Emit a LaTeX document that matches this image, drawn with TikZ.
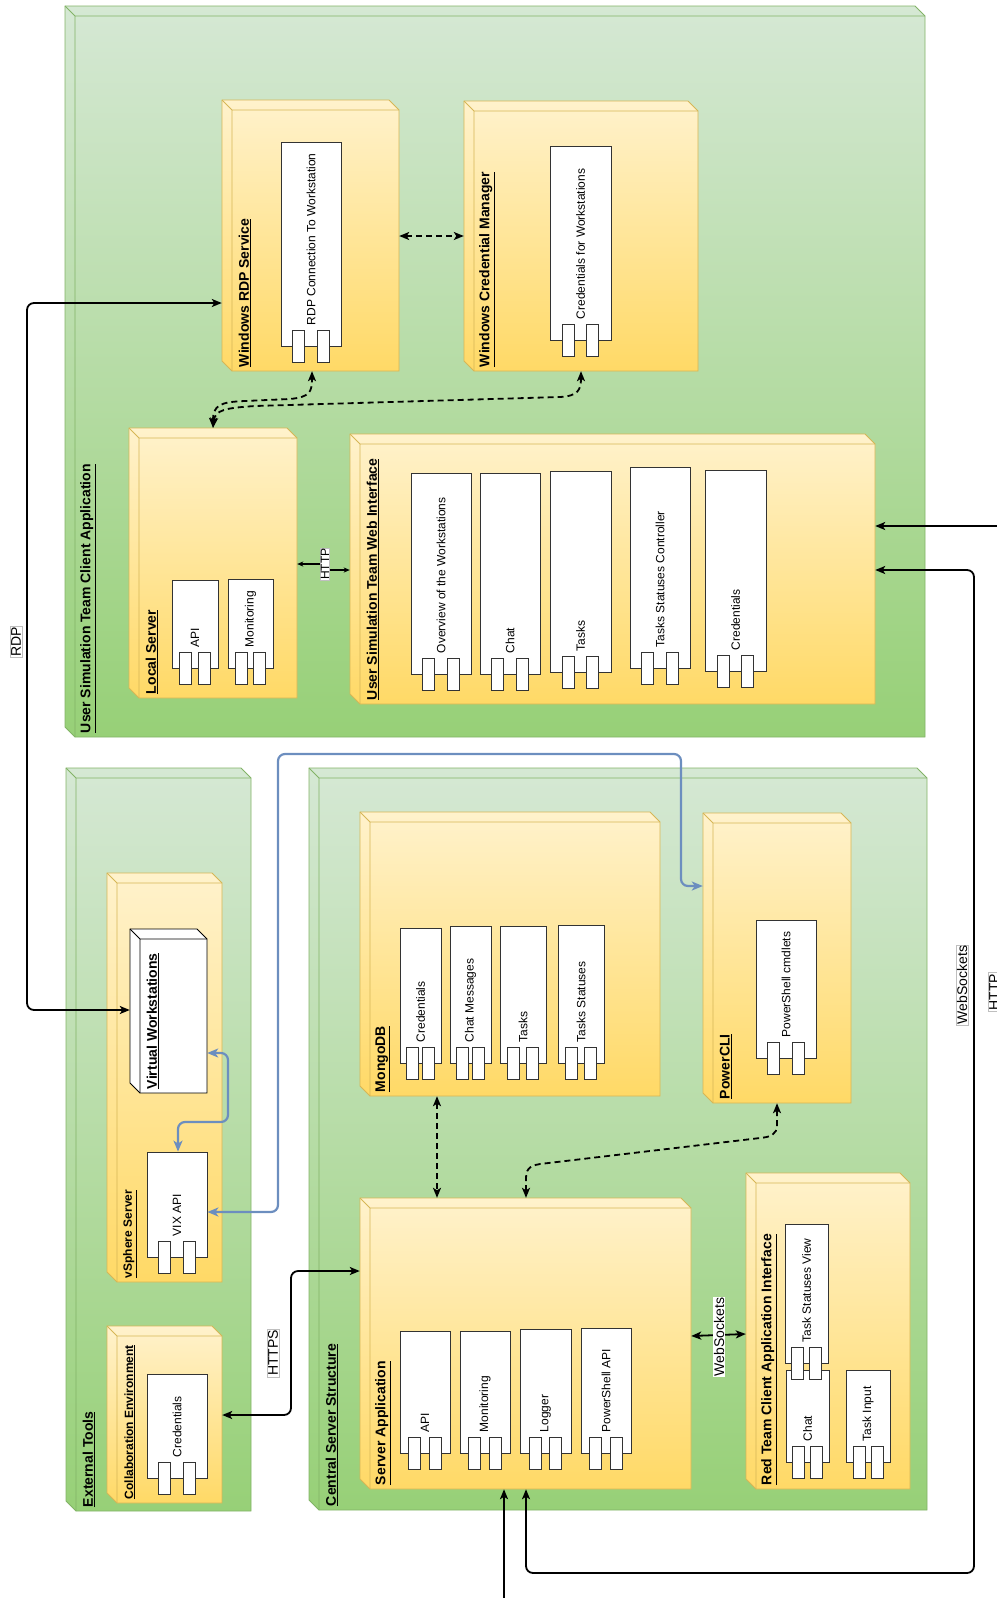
\documentclass[tikz,border=0pt]{standalone}
\usepackage{fontspec}
\setmainfont{Liberation Sans}
\usetikzlibrary{arrows.meta,calc,fit}
\definecolor{greentop}{HTML}{D5E8D4}
\definecolor{greenbottom}{HTML}{97D077}
\definecolor{greenline}{HTML}{82B366}
\definecolor{yellowtop}{HTML}{FFF2CC}
\definecolor{yellowbottom}{HTML}{FFD966}
\definecolor{yellowline}{HTML}{D6B656}
\definecolor{whitetop}{HTML}{FFFFFF}
\definecolor{whitebottom}{HTML}{FFFFFF}
\definecolor{whiteline}{HTML}{000000}
\definecolor{linkblue}{HTML}{6C8EBF}
\newcommand{\titlefont}{\fontsize{14}{16}\selectfont\bfseries}
\newcommand{\smalltitlefont}{\fontsize{12}{14}\selectfont\bfseries}
\newcommand{\labelfont}{\fontsize{12}{14}\selectfont}
\tikzset{
  comprect/.style={draw=black!80, fill=white, line width=0.8pt, inner sep=0pt},
  comppin/.style={draw=black!80, fill=white, line width=0.8pt, inner sep=0pt, minimum width=12pt, minimum height=32pt},
  complabel/.style={rotate=90, anchor=west, inner sep=0pt, font=\labelfont},
  boxlabel/.style={rotate=90, anchor=west, inner sep=0pt, font=\titlefont},
  link/.style={line width=1.8pt, rounded corners=7pt},
  dashlink/.style={line width=1.8pt, dash pattern=on 6pt off 4pt},
  bluelink/.style={link, line width=2.2pt, draw=linkblue, >={Stealth[length=11pt,width=9pt,inset=3pt]}},
  linklabel/.style={rotate=90, fill=white, draw=black!25, line width=0.6pt, inner sep=1pt, font=\fontsize{14}{16}\selectfont}
}
\newcommand{\boxthreed}[6]{%
  \path[top color=#1top, bottom color=#1bottom, draw=#1line, line width=0.9pt]
    (#3,#4) -- (#5-10,#4) -- (#5,#4+10) -- (#5,#6) -- (#3+10,#6) -- (#3,#6-10) -- cycle;
  \draw[#1line, line width=0.9pt] (#3,#4) -- (#3+10,#4+10) -- (#5,#4+10) (#3+10,#4+10) -- (#3+10,#6);
  \node[fit={(#3,#4) (#5,#6)}, inner sep=0pt] (#2) {};}
\newcommand{\boxtitle}[3][\titlefont]{%
  \node[boxlabel, font=#1] (#2-title) at ($(#2.south west)+(23,-4)$) {\underline{#3}};}
\newcommand{\compbox}[6]{%
  \node[comprect, fit={(#2,#3) (#4,#5)}] (#1) {};
  \node[comppin] (#1-p1) at ($(#1.south west)!0.3!(#1.south east)$) {};
  \node[comppin] (#1-p2) at ($(#1.south west)!0.7!(#1.south east)$) {};
  \node[complabel] (#1-label) at ($(#1.south)+(0,-21)$) {#6};}

\begin{document}
\begin{tikzpicture}[x=1pt, y=-1pt, >={Stealth[length=10pt,width=8pt,inset=2.5pt]}]
  \useasboundingbox (0,0) rectangle (996,1598);

  \boxthreed{green}{client}{65}{6}{925}{737}
  \boxtitle{client}{User Simulation Team Client Application}
  \boxthreed{green}{ext}{66}{768}{251}{1511}
  \boxtitle{ext}{External Tools}
  \boxthreed{green}{central}{309}{768}{927}{1510}
  \boxtitle{central}{Central Server Structure}

  \boxthreed{yellow}{rdps}{222}{100}{399}{371}
  \boxtitle{rdps}{Windows RDP Service}
  \boxthreed{yellow}{credm}{464}{101}{698}{371}
  \boxtitle{credm}{Windows Credential Manager}
  \boxthreed{yellow}{local}{129}{428}{297}{698}
  \boxtitle{local}{Local Server}
  \boxthreed{yellow}{web}{350}{434}{875}{704}
  \boxtitle{web}{User Simulation Team Web Interface}
  \boxthreed{yellow}{vsphere}{107}{873}{222}{1282}
  \boxtitle[\smalltitlefont]{vsphere}{vSphere Server}
  \boxthreed{yellow}{collab}{107}{1326}{222}{1503}
  \boxtitle[\smalltitlefont]{collab}{Collaboration Environment}
  \boxthreed{yellow}{mongo}{360}{812}{660}{1096}
  \boxtitle{mongo}{MongoDB}
  \boxthreed{yellow}{pcli}{703}{813}{851}{1103}
  \boxtitle{pcli}{PowerCLI}
  \boxthreed{yellow}{srv}{360}{1198}{691}{1489}
  \boxtitle{srv}{Server Application}
  \boxthreed{yellow}{red}{746}{1173}{910}{1489}
  \boxtitle{red}{Red Team Client Application Interface}
  \boxthreed{white}{vw}{130}{929}{207}{1093}
  \boxtitle{vw}{Virtual Workstations}

  \compbox{rdpconn}{281}{142}{341}{346}{RDP Connection To Workstation}
  \compbox{credws}{550}{146}{611}{340}{Credentials for Workstations}
  \compbox{lapi}{172}{580}{218}{668}{API}
  \compbox{lmon}{228}{579}{273}{668}{Monitoring}
  \foreach \n/\xa/\ya/\xb/\yb/\t in {wover/411/473/471/674/Overview of the Workstations,
      wchat/480/473/540/674/Chat, wtasks/550/471/611/672/Tasks,
      wtsc/630/467/690/668/Tasks Statuses Controller, wcred/705/470/766/671/Credentials}
    {\compbox{\n}{\xa}{\ya}{\xb}{\yb}{\t}}
  \compbox{vix}{147}{1152}{207}{1257}{VIX API}
  \compbox{ccred}{147}{1374}{207}{1478}{Credentials}
  \foreach \n/\xa/\ya/\xb/\yb/\t in {mcred/400/928/441/1063/Credentials,
      mchat/450/926/491/1063/Chat Messages, mtasks/500/926/546/1063/Tasks,
      mstat/558/925/604/1063/Tasks Statuses}
    {\compbox{\n}{\xa}{\ya}{\xb}{\yb}{\t}}
  \compbox{pscmd}{756}{920}{816}{1058}{PowerShell cmdlets}
  \foreach \n/\xa/\ya/\xb/\yb/\t in {sapi/400/1331/450/1453/API,
      smon/460/1331/510/1453/Monitoring, slog/520/1329/571/1453/Logger,
      sps/581/1328/631/1453/PowerShell API}
    {\compbox{\n}{\xa}{\ya}{\xb}{\yb}{\t}}
  \compbox{rchat}{786}{1370}{829}{1462}{Chat}
  \compbox{rtsv}{785}{1224}{828}{1363}{Task Statuses View}
  \compbox{rinput}{846}{1370}{890}{1462}{Task Input}

  \draw[link,<->] (rdps.west |- 0,303) -- (27,303) -- (27,1010) -- (vw.west |- 0,1010);
  \node[linklabel] (rdplabel) at (16,642) {RDP};
  \draw[dashlink,<->] (rdps.east |- 0,236) -- (credm.west |- 0,236);
  \draw[dashlink,<->] (local.north -| 213,0) .. controls (213,405) and (220,402) .. (245,401)
    -- (290,399) .. controls (310,397) and (312,392) .. (rdps.south -| 312,0);
  \draw[dashlink,<->] (local.north -| 213,0) .. controls (215,410) and (225,408) .. (255,406)
    -- (560,397) .. controls (578,396) and (581,390) .. (credm.south -| 581,0);
  \draw[line width=1.2pt, >={Stealth[length=6pt,width=5pt,inset=1.5pt]}, <->]
    (local.east |- 0,564) -- (325,564) -- (325,570) -- (web.west |- 0,570);
  \node[linklabel, font=\labelfont, inner sep=0.5pt] (httplocal) at (325,564) {HTTP};
  \coordinate (offright) at (1000,526);
  \draw[link,->] (offright) -- (web.east |- 0,526);
  \draw[link,<->] (srv.south -| 526,0) -- (526,1573) -- (974,1573) -- (974,570) -- (web.east |- 0,570);
  \node[linklabel] (wsright) at (962,985) {WebSockets};
  \coordinate (offbottom) at (504,1602);
  \draw[link,->] (offbottom) -- (srv.south -| 504,0);
  \node[linklabel] (httpright) at (994,992) {HTTP};

  \draw[bluelink,<->] (vw.east |- 0,1053) -- (228,1053) -- (228,1122) -- (178,1122) -- (vix.north -| 178,0);
  \draw[bluelink,<->] (vix.east |- 0,1212) -- (278,1212) -- (278,754) -- (681,754) -- (681,886) -- (pcli.west |- 0,886);
  \draw[link,<->] (collab.east |- 0,1415) -- (291,1415) -- (291,1271) -- (srv.west |- 0,1271);
  \node[linklabel] (httpslabel) at (273,1353) {HTTPS};

  \draw[dashlink,<->] (mongo.south -| 437,0) -- (srv.north -| 437,0);
  \draw[dashlink,<->] (pcli.south -| 777,0) -- (777,1125) .. controls (777,1135) and (770,1137) .. (760,1138)
    -- (540,1164) .. controls (528,1166) and (526,1170) .. (526,1180) -- (srv.north -| 526,0);
  \draw[link,<->] (srv.east |- 0,1336) -- (red.west |- 0,1334);
  \node[linklabel, draw=none] (wsmid) at (719,1337) {WebSockets};
\end{tikzpicture}
\end{document}
